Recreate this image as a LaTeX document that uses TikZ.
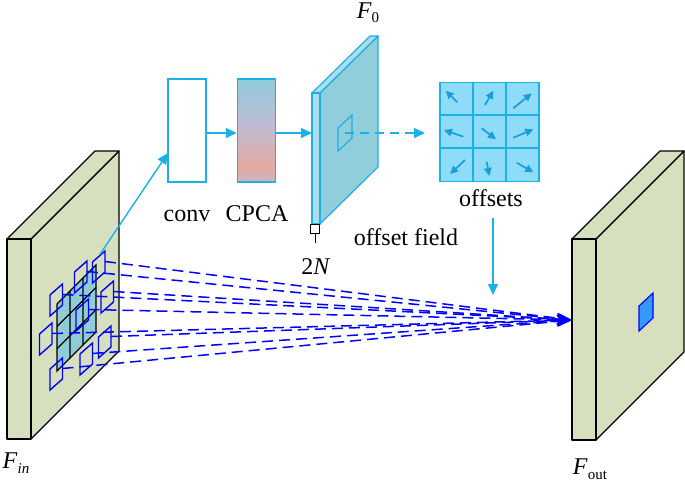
\documentclass[tikz,border=0pt]{standalone}
\usepackage{fontspec}
\setmainfont{Liberation Serif}
\usetikzlibrary{arrows.meta}
\definecolor{cy}{HTML}{1CB0E8}
\definecolor{cyarr}{HTML}{1A9ED8}
\definecolor{blockfill}{HTML}{D6E0BF}
\definecolor{slabfront}{HTML}{ABDDEA}
\definecolor{slabside}{HTML}{90CEDC}
\definecolor{gridfill}{HTML}{8EDCF7}
\definecolor{infill}{HTML}{90CCD8}
\definecolor{pblue}{HTML}{0000FF}
\definecolor{sqblue}{HTML}{3399FF}
\definecolor{cpcatop}{HTML}{8ECCDA}
\definecolor{cpcamid}{HTML}{C0BAD2}
\definecolor{cpcapink}{HTML}{E2AAA0}
\definecolor{cpcabot}{HTML}{CDB4C8}
\pgfdeclareverticalshading{cpcashade}{100bp}{color(0bp)=(cpcabot); color(25bp)=(cpcabot); color(32bp)=(cpcapink); color(52bp)=(cpcamid); color(75bp)=(cpcatop); color(100bp)=(cpcatop)}
\tikzset{
  blockface/.style={fill=blockfill,draw=black,line width=1.1pt,line join=round},
  slabface/.style={draw=cy,line width=1.2pt,line join=round},
  cybox/.style={draw=cy,line width=1.5pt,minimum width=38pt,minimum height=103pt,inner sep=0pt},
  cyarrow/.style={draw=cy,line width=1.5pt,-{Triangle[length=11pt,width=10pt]}},
  offarrow/.style={draw=cyarr,line width=1.7pt,-{Triangle[length=8pt,width=7.5pt]}},
  sample/.style={draw=pblue,line width=1.4pt},
  proj/.style={draw=pblue,line width=1.5pt,dash pattern=on 11pt off 6pt,-{Stealth[length=15pt,width=11pt]}},
  lab/.style={font=\fontsize{24}{28}\selectfont,inner sep=0pt},
}
\begin{document}
\begin{tikzpicture}[x=1pt,y=-1pt]
\useasboundingbox (0,0) rectangle (685,481);

% ---------- F_in block ----------
\path[blockface] (31,239) -- (119,151) -- (119,351) -- (31,439) -- cycle;
\path[blockface] (7,239) -- (95,151) -- (119,151) -- (31,239) -- cycle;
\path[blockface] (7,239) rectangle (31,439);

% grid on F_in
\path[fill=infill,draw=black,line width=1.2pt] (57,371) -- (96,332) -- (96,265) -- (57,304) -- cycle;
\draw[black,line width=1.2pt] (70,358) -- (70,291) (83,345) -- (83,278)
  (57,348.7) -- (96,309.7) (57,326.4) -- (96,287.4);

% sample parallelograms (lower-left corners)
\foreach \n/\x/\y in {A/92.5/283, B/74.5/293, C/50/316, D/101/313, E/76/331, F/39.5/355, G/98.5/358, H/80/375, I/50/390}{
  \draw[sample] (\x,\y) -- ++(12.5,-11) -- ++(0,-21) -- ++(-12.5,11) -- cycle;
  \coordinate (s\n) at (\x+12.5,\y-21.5);
}
\coordinate (sAtop) at (99.5,255);

% ---------- F_out block ----------
\path[blockface] (596,239) -- (684,151) -- (684,352) -- (596,440) -- cycle;
\path[blockface] (572,239) -- (660,151) -- (684,151) -- (596,239) -- cycle;
\path[blockface] (572,239) rectangle (596,440);
\path[fill=sqblue,draw=pblue,line width=1.1pt] (639,331) -- (653,318) -- (653,293) -- (639,306) -- cycle;
\coordinate (tip) at (572,320);

% projection lines
\foreach \n in {A,B,C,D,E,F,G,H,I}{
  \draw[proj] (s\n) -- (tip);
}

% ---------- conv / CPCA ----------
\node[cybox,fill=white] (conv) at (187,130.5) {};
\node[cybox,shading=cpcashade] (cpca) at (256.5,130.5) {};
\coordinate (convin) at (168,153);
\draw[cyarrow,line width=1.4pt] (sAtop) -- (convin);

\node[lab,anchor=base] (convlab) at (187,221.5) {conv};
\node[lab,anchor=base] (cpcalab) at (257,221.5) {CPCA};

% ---------- F0 slab ----------
\path[slabface,fill=slabside] (320,93) -- (378,36) -- (378,167) -- (320,224) -- cycle;
\path[slabface,fill=slabfront] (312,93) -- (370,36) -- (378,36) -- (320,93) -- cycle;
\path[slabface,fill=slabfront] (312,93) rectangle (320,224);
\coordinate (f0in) at (312,133);
\draw[cy,line width=1.2pt] (338,151) -- (352,138) -- (352,115) -- (338,128) -- cycle;
\coordinate (f0c) at (345,133);

\draw[cyarrow] (conv.east |- 0,133) -- (cpca.west |- 0,133);
\draw[cyarrow] (cpca.east |- 0,133) -- (f0in);

% 2N marker
\node[draw=black,line width=1pt,fill=white,minimum size=9pt,inner sep=0pt] (nbox) at (315,229) {};
\coordinate (nstem) at (315,243);
\draw[black,line width=1pt] (nbox.south) -- (nstem);
\node[lab,anchor=base] (twoN) at (316,274) {2\textit{N}};
\node[lab,anchor=base] (F0lab) at (368,19) {\textit{F}\raisebox{-4pt}{\fontsize{15}{16}\selectfont 0}};

% ---------- offsets grid ----------
\node[draw=cy,fill=gridfill,line width=1.6pt,minimum size=99pt,inner sep=0pt] (offs) at (489.5,132) {};
\draw[cy,line width=1.6pt] (473,82.5) -- (473,181.5) (506,82.5) -- (506,181.5)
  (440,115) -- (539,115) (440,148) -- (539,148);
\draw[offarrow] (457.3,102.3) -- (445.7,90.7);
\draw[offarrow] (485,105) -- (493.3,90.7);
\draw[offarrow] (513.3,108.3) -- (531.7,93.3);
\draw[offarrow] (463.3,136.7) -- (444,130);
\draw[offarrow] (481.7,128.3) -- (496,139.3);
\draw[offarrow] (513.3,137.7) -- (533.3,129.3);
\draw[offarrow] (465,160) -- (450,174);
\draw[offarrow] (486.7,161.7) -- (489.3,176);
\draw[offarrow] (516.7,162.7) -- (533.3,172.3);

\coordinate (offin) at (425,133);
\draw[cy,line width=1.4pt,dash pattern=on 9pt off 6pt,-{Triangle[length=11pt,width=10pt]}] (f0c) -- (offin);

\node[lab,anchor=base] (offslab) at (491,207) {offsets};
\coordinate (offsdown) at (493,218);
\coordinate (offsend) at (493,295);
\draw[cyarrow] (offsdown) -- (offsend);

\node[lab,anchor=base] (fieldlab) at (406,245) {offset field};

% labels F_in / F_out
\node[lab,anchor=base] (finlab) at (16,468) {\textit{F}\raisebox{-5pt}{\fontsize{15}{16}\selectfont\textit{in}}};
\node[lab,anchor=base] (foutlab) at (590,474) {\textit{F}\raisebox{-5pt}{\fontsize{15}{16}\selectfont out}};
\end{tikzpicture}
\end{document}
